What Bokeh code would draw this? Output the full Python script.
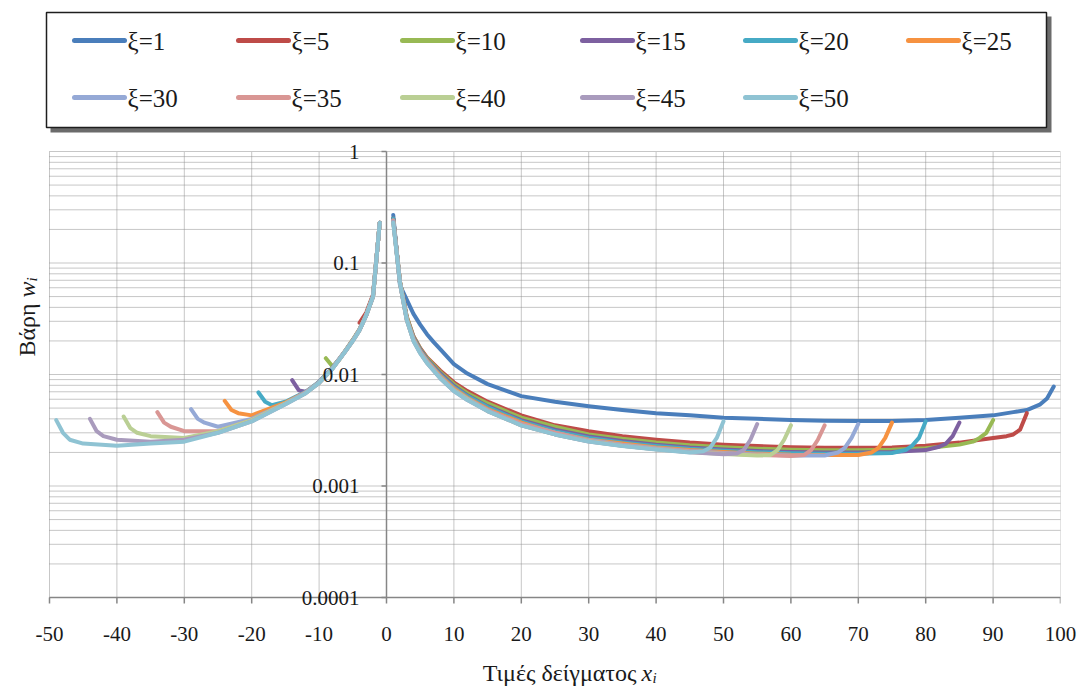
import math
from bokeh.plotting import figure
from bokeh.models import Range1d, FixedTicker, LabelSet, ColumnDataSource
from bokeh.layouts import column
from bokeh.embed import file_html
from bokeh.resources import INLINE
from bokeh.core.properties import value

# ---------------- data ----------------
xi_values = [1, 5, 10, 15, 20, 25, 30, 35, 40, 45, 50]
series_labels = ["ξ=%d" % v for v in xi_values]
colors = ["#4A7EBB", "#BE4B48", "#98B954", "#7D60A0", "#46AAC5", "#F69240",
          "#95A9D6", "#D99694", "#BACF94", "#A99BBD", "#8FC3D3"]

# right-hand branch (x > 0)
xr_1 = [1, 2, 3, 4, 5, 6, 7, 8, 10, 12, 15, 20, 25, 30, 35, 40, 45, 50, 55, 60, 65, 70, 75, 80, 85, 90, 93, 95, 97, 98, 99]
wr_1 = [.27, .063, .047, .035, .028, .023, .0195, .0168, .0124, .0102, .0082, .0064, .0057, .0052, .0048, .0045, .0043, .0041,
        .0040, .0039, .00385, .00382, .00383, .0039, .0041, .0043, .0046, .0048, .0054, .0061, .0078]
xr_5 = [1, 2, 3, 4, 5, 6, 8, 10, 12, 15, 20, 25, 30, 35, 40, 45, 50, 55, 60, 65, 70, 75, 80, 85, 90, 92, 93, 94, 95]
wr_5 = [.25, .068, .033, .022, .0172, .0142, .0108, .0085, .0071, .0057, .0043, .0035, .0031, .0028, .0026, .00245, .00235,
        .00228, .00223, .0022, .0022, .00222, .0023, .00245, .0027, .0028, .0029, .0032, .0045]
xr_10 = [1, 2, 3, 4, 5, 6, 8, 10, 12, 15, 20, 25, 30, 35, 40, 45, 50, 55, 60, 65, 70, 75, 80, 85, 87, 88, 89, 90]
wr_10 = [.25, .068, .033, .0218, .017, .014, .0105, .0082, .0068, .0055, .0041, .0034, .0029, .00265, .00246, .00232, .00223,
         .00216, .00211, .00209, .00209, .00211, .00218, .00235, .0025, .0027, .003, .0039]
xr_15 = [1, 2, 3, 4, 5, 6, 8, 10, 12, 15, 20, 25, 30, 35, 40, 45, 50, 55, 60, 65, 70, 75, 80, 82, 83, 84, 85]
wr_15 = [.25, .067, .032, .0215, .0167, .0137, .0102, .0079, .0065, .0052, .0039, .0032, .00278, .00253, .00235, .00222,
         .00213, .00206, .00202, .002, .002, .00202, .0021, .00225, .0024, .0028, .0037]
xr_20 = [1, 2, 3, 4, 5, 6, 8, 10, 12, 15, 20, 25, 30, 35, 40, 45, 50, 55, 60, 65, 70, 75, 77, 78, 79, 80]
wr_20 = [.25, .067, .032, .0212, .0164, .0135, .0099, .0077, .0064, .0051, .0038, .0031, .0027, .00246, .00229, .00216,
         .00207, .00201, .00197, .00195, .00195, .00198, .0021, .0023, .0027, .0038]
xr_25 = [1, 2, 3, 4, 5, 6, 8, 10, 12, 15, 20, 25, 30, 35, 40, 45, 50, 55, 60, 65, 70, 72, 73, 74, 75]
wr_25 = [.24, .067, .032, .021, .0162, .0133, .0097, .0075, .0062, .0049, .0037, .003, .0026, .0024, .00222, .0021, .00202,
         .00195, .00191, .0019, .0019, .002, .0022, .0027, .0037]
xr_30 = [1, 2, 3, 4, 5, 6, 8, 10, 12, 15, 20, 25, 30, 35, 40, 45, 50, 55, 60, 65, 67, 68, 69, 70]
wr_30 = [.24, .066, .031, .0206, .016, .0131, .0095, .0073, .0061, .0048, .0036, .003, .00258, .00235, .00218, .00206,
         .00198, .00192, .00188, .00188, .002, .0022, .0027, .0036]
xr_35 = [1, 2, 3, 4, 5, 6, 8, 10, 12, 15, 20, 25, 30, 35, 40, 45, 50, 55, 60, 62, 63, 64, 65]
wr_35 = [.24, .066, .031, .0204, .0158, .013, .0094, .0072, .006, .0048, .0036, .003, .00255, .00232, .00216, .00204,
         .00196, .0019, .00186, .0019, .0021, .0026, .0035]
xr_40 = [1, 2, 3, 4, 5, 6, 8, 10, 12, 15, 20, 25, 30, 35, 40, 45, 50, 55, 57, 58, 59, 60]
wr_40 = [.235, .066, .031, .0202, .0157, .0128, .0093, .0072, .006, .0047, .0035, .0029, .00252, .0023, .00214, .00202,
         .00194, .00188, .0019, .0021, .0026, .0035]
xr_45 = [1, 2, 3, 4, 5, 6, 8, 10, 12, 15, 20, 25, 30, 35, 40, 45, 50, 52, 53, 54, 55]
wr_45 = [.235, .066, .031, .0201, .0156, .0127, .0092, .0071, .0059, .0047, .0035, .0029, .0025, .00229, .00213, .00201,
         .00193, .00196, .0021, .0026, .0036]
xr_50 = [1, 2, 3, 4, 5, 6, 8, 10, 12, 15, 20, 25, 30, 35, 40, 45, 47, 48, 49, 50]
wr_50 = [.23, .066, .031, .02, .0155, .0127, .0092, .0071, .0059, .0047, .0035, .0029, .0025, .00228, .00212, .002, .00205,
         .0022, .0027, .0038]

# left-hand branch (x < 0)
xl_1, wl_1 = [], []
xl_5 = [-4, -3, -2, -1]
wl_5 = [.029, .036, .052, .23]
xl_10 = [-9, -8, -7, -6, -5, -4, -3, -2, -1]
wl_10 = [.014, .0118, .0136, .0167, .0205, .0255, .0345, .051, .23]
xl_15 = [-14, -13, -12, -11, -10, -8, -6, -5, -4, -3, -2, -1]
wl_15 = [.0089, .0072, .007, .0076, .0086, .0115, .0166, .0203, .0253, .0343, .051, .23]
xl_20 = [-19, -18, -17, -15, -12, -10, -8, -6, -5, -4, -3, -2, -1]
wl_20 = [.0069, .0057, .0053, .0057, .007, .0086, .0115, .0166, .0202, .0252, .0342, .05, .23]
xl_25 = [-24, -23, -22, -20, -15, -12, -10, -8, -6, -5, -4, -3, -2, -1]
wl_25 = [.0058, .0048, .0045, .0043, .0056, .0069, .0085, .0114, .0166, .0202, .0252, .0342, .05, .23]
xl_30 = [-29, -28, -27, -25, -20, -15, -12, -10, -8, -6, -5, -4, -3, -2, -1]
wl_30 = [.0049, .004, .0037, .0034, .004, .0055, .0069, .0085, .0114, .0165, .0201, .0251, .0341, .05, .23]
xl_35 = [-34, -33, -32, -30, -25, -20, -15, -12, -10, -8, -6, -5, -4, -3, -2, -1]
wl_35 = [.0046, .0037, .0034, .0031, .0031, .0039, .0055, .0069, .0084, .0114, .0165, .0201, .0251, .034, .05, .23]
xl_40 = [-39, -38, -37, -35, -30, -25, -20, -15, -12, -10, -8, -6, -5, -4, -3, -2, -1]
wl_40 = [.0042, .0033, .003, .0028, .0027, .0031, .0039, .0055, .0068, .0084, .0113, .0165, .02, .025, .034, .05, .23]
xl_45 = [-44, -43, -42, -40, -35, -30, -25, -20, -15, -12, -10, -8, -6, -5, -4, -3, -2, -1]
wl_45 = [.004, .0031, .0028, .0026, .0025, .0026, .003, .0038, .0054, .0068, .0084, .0113, .0165, .02, .025, .034, .05, .23]
xl_50 = [-49, -48, -47, -45, -40, -35, -30, -25, -20, -15, -12, -10, -8, -6, -5, -4, -3, -2, -1]
wl_50 = [.0039, .003, .0026, .0024, .0023, .0024, .0025, .003, .0038, .0054, .0068, .0084, .0113, .0165, .02, .025, .034, .05, .23]

right_x = [xr_1, xr_5, xr_10, xr_15, xr_20, xr_25, xr_30, xr_35, xr_40, xr_45, xr_50]
right_w = [wr_1, wr_5, wr_10, wr_15, wr_20, wr_25, wr_30, wr_35, wr_40, wr_45, wr_50]
left_x = [xl_1, xl_5, xl_10, xl_15, xl_20, xl_25, xl_30, xl_35, xl_40, xl_45, xl_50]
left_w = [wl_1, wl_5, wl_10, wl_15, wl_20, wl_25, wl_30, wl_35, wl_40, wl_45, wl_50]

x_ticks = [-50, -40, -30, -20, -10, 0, 10, 20, 30, 40, 50, 60, 70, 80, 90, 100]
x_tick_labels = ["-50", "-40", "-30", "-20", "-10", "0", "10", "20", "30", "40", "50", "60", "70", "80", "90", "100"]
y_ticks = [0.0001, 0.001, 0.01, 0.1, 1]
y_tick_labels = ["0.0001", "0.001", "0.01", "0.1", "1"]
x_title = "Τιμές δείγματος"
x_title_sym = "x"
y_title = "Βάρη"
y_title_sym = "w"
sub_index = "i"

# ---------------- styling / layout constants ----------------
SERIF = "Liberation Serif"
GRID = "#8e8e8e"
AXIS = "#868686"
TXT = "#1a1a1a"
W = 1080
RIGHT_PAD = 20
PLOT_L, PLOT_R = 49, 1060          # page x of x=-50 and x=100
PLOT_T, PLOT_B = 151, 597          # page y of w=1 and w=0.0001
XMIN, XMAX = -50, 100
PXU = (PLOT_R - PLOT_L) / (XMAX - XMIN)
PXD = (PLOT_B - PLOT_T) / 4.0

def page_x(px):
    return XMIN + (px - PLOT_L) / PXU

def page_y(py):
    return 10 ** (-(py - PLOT_T) / PXD)

LEG_H = 135
MAIN_TOP = LEG_H
FRAME_T, FRAME_B = 139, 609
MAIN_BOTTOM_BORDER = 40
MAIN_H = FRAME_B + MAIN_BOTTOM_BORDER - MAIN_TOP
TITLE_TOP = LEG_H + MAIN_H
TITLE_H = 689 - TITLE_TOP


def bare(fig):
    fig.axis.visible = False
    fig.grid.visible = False
    fig.outline_line_color = None
    fig.background_fill_color = "white"
    fig.border_fill_color = "white"


# ---------------- legend panel ----------------
leg = figure(width=W, height=LEG_H, x_range=Range1d(0, PLOT_R), y_range=Range1d(LEG_H, 0),
             toolbar_location=None, output_backend="svg",
             min_border_left=0, min_border_right=RIGHT_PAD, min_border_top=0, min_border_bottom=0)
bare(leg)
leg.quad(left=[50], right=[1051], top=[16], bottom=[132], fill_color="#3a3a3a", fill_alpha=0.75, line_color=None)
leg.quad(left=[46], right=[1046], top=[12], bottom=[127], fill_color="white", line_color="#1e1e1e", line_width=1.5)

col_x = [74, 238, 402, 582, 745, 908]
row_y = [40, 97]
for i, (lab, colr) in enumerate(zip(series_labels, colors)):
    r, c = divmod(i, 6)
    x0 = col_x[c]
    y0 = row_y[r]
    leg.line([x0, x0 + 50], [y0, y0], line_color=colr, line_width=5, line_cap="round")
    leg.text(x=[x0 + 53], y=[y0 + 1], text=[lab], text_font=value(SERIF), text_font_size="25px",
             text_baseline="middle", text_align="left", text_color=TXT)

# ---------------- main plot ----------------
p = figure(width=W, height=MAIN_H,
           x_range=Range1d(page_x(0), XMAX), y_range=Range1d(page_y(FRAME_B), page_y(FRAME_T)),
           y_axis_type="log", toolbar_location=None, output_backend="svg",
           min_border_left=0, min_border_right=RIGHT_PAD,
           min_border_top=FRAME_T - MAIN_TOP, min_border_bottom=MAIN_BOTTOM_BORDER)
p.outline_line_color = None
p.background_fill_color = "white"
p.border_fill_color = "white"
p.grid.visible = False
p.yaxis.visible = False

p.xaxis.ticker = FixedTicker(ticks=x_ticks)
p.xaxis.major_label_overrides = dict(zip(x_ticks, x_tick_labels))
p.xaxis.axis_line_color = None
p.xaxis.major_tick_line_color = None
p.xaxis.minor_tick_line_color = None
p.xaxis.major_tick_in = 0
p.xaxis.major_tick_out = 0
p.xaxis.major_label_text_font = SERIF
p.xaxis.major_label_text_font_size = "21px"
p.xaxis.major_label_text_color = TXT
p.xaxis.major_label_standoff = 17

ymin, ymax = y_ticks[0], y_ticks[-1]
y_minor = [k * 10.0 ** e for e in range(-4, 0) for k in range(2, 10)]

# dotted grid, limited to the plotting area
p.segment(x0=[XMIN] * len(y_minor), x1=[XMAX] * len(y_minor), y0=y_minor, y1=y_minor,
          line_color=GRID, line_dash="1 1", line_width=1)
p.segment(x0=[XMIN] * len(y_ticks), x1=[XMAX] * len(y_ticks), y0=y_ticks, y1=y_ticks,
          line_color=GRID, line_dash="1 1", line_width=1)
p.segment(x0=x_ticks, x1=x_ticks, y0=[ymin] * len(x_ticks), y1=[ymax] * len(x_ticks),
          line_color=GRID, line_dash="1 1", line_width=1)

# axis lines: horizontal at w=0.0001, vertical through x=0
p.segment(x0=[XMIN], x1=[XMAX], y0=[ymin], y1=[ymin], line_color=AXIS, line_width=1.5)
p.segment(x0=x_ticks, x1=x_ticks, y0=[ymin] * len(x_ticks), y1=[page_y(PLOT_B + 6)] * len(x_ticks),
          line_color=AXIS, line_width=1.5)
p.segment(x0=[0], x1=[0], y0=[ymin], y1=[ymax], line_color=AXIS, line_width=1.5)
p.segment(x0=[-5 / PXU] * len(y_ticks), x1=[0] * len(y_ticks), y0=y_ticks, y1=y_ticks,
          line_color=AXIS, line_width=1.5)
ysrc = ColumnDataSource(dict(x=[0] * len(y_ticks), y=y_ticks, t=y_tick_labels))
p.add_layout(LabelSet(x="x", y="y", text="t", source=ysrc, x_offset=-27, text_align="right",
                      text_baseline="middle", text_font=value(SERIF), text_font_size="21px",
                      text_color=TXT))

for xs, ws, xl, wl, colr in zip(right_x, right_w, left_x, left_w, colors):
    if xl:
        p.line(xl, wl, line_color=colr, line_width=4, line_join="round", line_cap="round")
    p.line(xs, ws, line_color=colr, line_width=4, line_join="round", line_cap="round")

# y-axis title (rotated, reads bottom to top)
rot = math.pi / 2
p.text(x=[page_x(26)], y=[page_y(303)], text=[y_title], angle=rot, text_align="right",
       text_baseline="alphabetic", text_font=value(SERIF), text_font_size="24px", text_color=TXT)
p.text(x=[page_x(26)], y=[page_y(297)], text=[y_title_sym], angle=rot, text_align="left",
       text_baseline="alphabetic", text_font=value(SERIF), text_font_style="italic",
       text_font_size="24px", text_color=TXT)
p.text(x=[page_x(31)], y=[page_y(281)], text=[sub_index], angle=rot, text_align="left",
       text_baseline="alphabetic", text_font=value(SERIF), text_font_style="italic",
       text_font_size="15px", text_color=TXT)

# ---------------- x-axis title panel ----------------
tp = figure(width=W, height=TITLE_H, x_range=Range1d(0, PLOT_R), y_range=Range1d(TITLE_H, 0),
            toolbar_location=None, output_backend="svg",
            min_border_left=0, min_border_right=RIGHT_PAD, min_border_top=0, min_border_bottom=0)
bare(tp)
base = 672 - TITLE_TOP
tp.text(x=[636], y=[base], text=[x_title], text_align="right", text_baseline="alphabetic",
        text_font=value(SERIF), text_font_size="24px", text_color=TXT)
tp.text(x=[641], y=[base], text=[x_title_sym], text_align="left", text_baseline="alphabetic",
        text_font=value(SERIF), text_font_style="italic", text_font_size="24px", text_color=TXT)
tp.text(x=[652], y=[base + 5], text=[sub_index], text_align="left", text_baseline="alphabetic",
        text_font=value(SERIF), text_font_style="italic", text_font_size="15px", text_color=TXT)

layout = column(leg, p, tp, spacing=0)
open("out.html", "w").write(file_html(layout, INLINE))
